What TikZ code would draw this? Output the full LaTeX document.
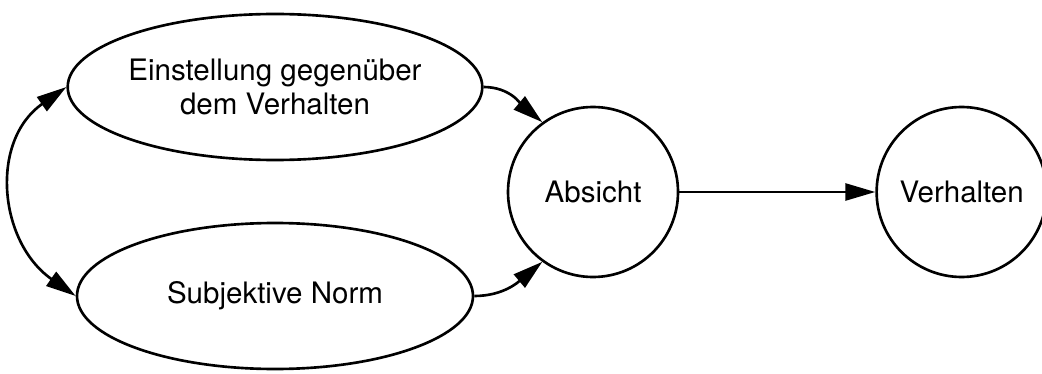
\documentclass[tikz,border=0pt]{standalone}
\usepackage{fontspec}
\setmainfont{TeX Gyre Heros}
\usetikzlibrary{shapes.geometric,arrows.meta,positioning}

\tikzset{
  oval/.style={ellipse, draw, line width=1.5pt, minimum width=7.92cm, minimum height=2.92cm, inner sep=0pt, align=center, font=\fontsize{16.8}{19}\selectfont},
  rund/.style={circle, draw, line width=1.5pt, minimum size=3.4cm, inner sep=0pt, font=\fontsize{16.8}{19}\selectfont},
  pfeil/.style={line width=1.5pt, -{Triangle[length=0.6cm,width=0.34cm]}},
  doppelpfeil/.style={line width=1.5pt, {Triangle[length=0.6cm,width=0.34cm]}-{Triangle[length=0.6cm,width=0.34cm]}}
}

\begin{document}
\begin{tikzpicture}
  \useasboundingbox (0,0) rectangle (20.84,-7.48);
  \node (einstellung) [oval] at (5.5,-1.74) {Einstellung gegenüber\\dem Verhalten};
  \node (norm) [oval] at (5.5,-5.92) {Subjektive Norm};
  \node (absicht) [rund] at (11.86,-3.84) {Absicht};
  \node (verhalten) [rund, right=3.92cm of absicht] {Verhalten};

  \draw[pfeil] (einstellung.east) to[out=0,in=140] (absicht.126);
  \draw[pfeil] (norm.east) to[out=0,in=-140] (absicht.-126);
  \draw[pfeil] (absicht) -- (verhalten);
  \draw[doppelpfeil] (einstellung.west) to[out=215,in=145,looseness=1.15] (norm.west);
\end{tikzpicture}
\end{document}
